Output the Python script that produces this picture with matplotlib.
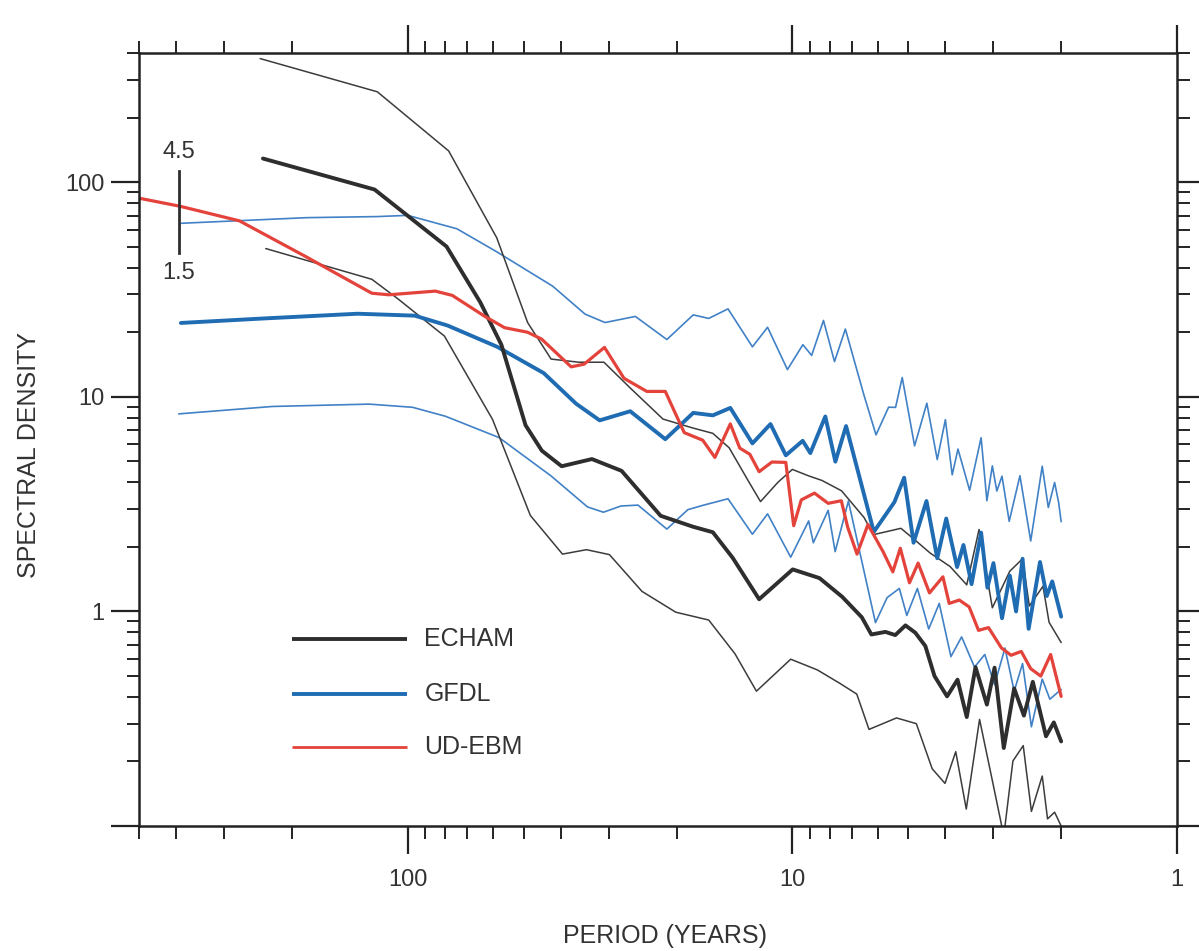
import matplotlib
matplotlib.use("Agg")
import matplotlib.pyplot as plt
from matplotlib.ticker import LogLocator, FuncFormatter, NullFormatter

plt.rcParams['font.family'] = ['Liberation Sans', 'DejaVu Sans']

# ---------------- data (period in years, spectral density) ----------------
# ECHAM central estimate (thick black)
echam_period = [238, 122, 79.3, 64.8, 57.1, 49.4, 44.8, 39.8, 33.2, 27.8, 22.0, 18.1,
                16.1, 14.3, 12.2, 9.98, 8.50, 7.42, 6.60, 6.23, 5.73, 5.40, 5.08, 4.79,
                4.51, 4.27, 3.96, 3.72, 3.52, 3.34, 3.12, 2.98, 2.82, 2.65, 2.50, 2.37,
                2.19, 2.09, 2.00]
echam_density = [129, 92.5, 50.2, 27.6, 17.5, 7.37, 5.61, 4.75, 5.13, 4.52, 2.79, 2.48,
                 2.34, 1.78, 1.14, 1.57, 1.43, 1.17, 0.94, 0.781, 0.803, 0.776, 0.861, 0.796,
                 0.690, 0.500, 0.402, 0.481, 0.322, 0.550, 0.368, 0.547, 0.231, 0.438, 0.327, 0.470,
                 0.262, 0.304, 0.248]

# ECHAM upper bound (thin black)
echam_hi_period = [242, 120, 78.3, 58.7, 48.8, 42.4, 35.9, 30.9, 26.4, 21.7, 18.2, 16.1,
                   14.6, 13.0, 12.1, 10.9, 10.0, 9.06, 8.38, 7.45, 6.51, 6.15, 5.22, 4.84,
                   4.38, 3.89, 3.52, 3.27, 3.02, 2.72, 2.52, 2.42, 2.23, 2.15, 2.00]
echam_hi_density = [377, 264, 140, 55.1, 22.2, 15.0, 14.5, 14.5, 11.0, 7.88, 7.17, 6.76,
                    5.79, 4.04, 3.25, 4.00, 4.59, 4.28, 4.08, 3.65, 2.74, 2.28, 2.44, 2.18,
                    1.87, 1.62, 1.33, 2.41, 1.04, 1.54, 1.76, 1.06, 1.31, 0.89, 0.716]

# ECHAM lower bound (thin black)
echam_lo_period = [234, 124, 106, 80.3, 60.2, 48.0, 39.6, 34.3, 29.9, 24.6, 20.1, 16.5,
                   14.1, 12.4, 10.1, 8.61, 7.52, 6.80, 6.32, 5.36, 4.76, 4.33, 4.01, 3.76,
                   3.53, 3.26, 3.02, 2.82, 2.67, 2.51, 2.39, 2.24, 2.17, 2.08, 2.00]
echam_lo_density = [49.1, 35.3, 28.6, 19.2, 7.85, 2.80, 1.85, 1.94, 1.84, 1.24, 0.992, 0.912,
                    0.635, 0.425, 0.599, 0.534, 0.462, 0.412, 0.282, 0.319, 0.300, 0.185, 0.158, 0.222,
                    0.120, 0.314, 0.163, 0.09, 0.201, 0.237, 0.117, 0.171, 0.108, 0.116, 0.10]

# GFDL central estimate (thick blue)
gfdl_period = [389, 236, 135, 95.9, 78.8, 58.5, 44.3, 36.5, 31.7, 26.4, 21.4, 18.1,
               16.1, 14.5, 12.7, 11.4, 10.4, 9.40, 8.98, 8.21, 7.73, 7.25, 6.14, 5.43,
               5.12, 4.84, 4.48, 4.20, 3.98, 3.73, 3.59, 3.42, 3.23, 3.11, 3.00, 2.85,
               2.72, 2.62, 2.52, 2.43, 2.27, 2.18, 2.11, 2.00]
gfdl_density = [22.1, 23.2, 24.4, 23.9, 21.5, 17.1, 12.9, 9.29, 7.77, 8.57, 6.35, 8.42,
                8.20, 8.88, 6.07, 7.47, 5.34, 6.24, 5.47, 8.10, 4.99, 7.31, 2.35, 3.23,
                4.20, 2.09, 3.27, 1.77, 2.71, 1.61, 2.04, 1.34, 2.33, 1.29, 1.68, 0.93,
                1.47, 1.00, 1.76, 0.83, 1.70, 1.18, 1.38, 0.946]

# GFDL upper bound (thin blue)
gfdl_hi_period = [388, 183, 120, 100, 74.5, 58.8, 42.0, 34.6, 30.7, 25.6, 21.2, 18.1,
                  16.5, 14.7, 12.7, 11.6, 10.3, 9.39, 8.91, 8.30, 7.77, 7.28, 6.52, 6.06,
                  5.62, 5.39, 5.18, 4.81, 4.47, 4.20, 4.00, 3.84, 3.71, 3.46, 3.23, 3.12,
                  3.02, 2.94, 2.85, 2.73, 2.56, 2.40, 2.24, 2.16, 2.08, 2.03, 2.00]
gfdl_hi_density = [64.4, 68.4, 69.2, 70.1, 60.7, 47.5, 32.8, 24.3, 22.2, 23.7, 18.5, 24.1,
                   23.2, 25.7, 17.1, 21.1, 13.4, 17.5, 15.6, 22.7, 14.6, 20.7, 10.25, 6.65,
                   8.95, 8.93, 12.3, 5.91, 9.34, 5.10, 7.83, 4.33, 5.71, 3.67, 6.45, 3.28,
                   4.77, 3.64, 4.27, 2.63, 4.29, 2.13, 4.75, 3.05, 3.99, 3.21, 2.62]

# GFDL lower bound (thin blue)
gfdl_lo_period = [394, 225, 126, 97.2, 79.8, 57.9, 42.4, 34.1, 31.0, 27.9, 25.2, 21.2,
                  18.7, 17.0, 14.7, 12.7, 11.6, 10.1, 9.07, 8.82, 8.07, 7.74, 7.15, 6.08,
                  5.67, 5.27, 5.04, 4.73, 4.42, 4.15, 3.87, 3.63, 3.36, 3.16, 2.98, 2.80,
                  2.65, 2.52, 2.39, 2.24, 2.14, 2.00]
gfdl_lo_density = [8.33, 9.02, 9.25, 8.94, 8.12, 6.46, 4.28, 3.07, 2.90, 3.10, 3.13, 2.42,
                   2.98, 3.13, 3.35, 2.29, 2.85, 1.79, 2.64, 2.09, 2.96, 1.90, 3.27, 0.887,
                   1.16, 1.28, 0.958, 1.28, 0.828, 1.09, 0.616, 0.761, 0.550, 0.630, 0.456, 0.675,
                   0.425, 0.572, 0.290, 0.484, 0.390, 0.433]

# UD-EBM (red)
udebm_period = [500, 391, 274, 184, 124, 112, 84.8, 76.6, 63.0, 56.0, 48.8, 44.9,
                37.6, 34.8, 30.8, 27.4, 23.9, 21.4, 20.2, 19.1, 17.1, 15.9, 14.5, 13.7,
                12.9, 12.2, 11.3, 10.4, 9.92, 9.48, 8.76, 8.07, 7.46, 7.18, 6.79, 6.36,
                5.81, 5.48, 5.24, 4.96, 4.71, 4.40, 4.06, 3.91, 3.68, 3.47, 3.28, 3.09,
                2.86, 2.70, 2.54, 2.40, 2.26, 2.13, 2.00]
udebm_density = [84.3, 77.3, 66.1, 45.0, 30.4, 29.9, 31.1, 29.7, 23.7, 21.0, 20.0, 18.6,
                 13.8, 14.2, 17.0, 12.2, 10.6, 10.6, 8.46, 6.81, 6.28, 5.22, 7.48, 5.77,
                 5.40, 4.48, 4.97, 4.95, 2.51, 3.31, 3.56, 3.19, 3.28, 2.47, 1.85, 2.54,
                 1.90, 1.53, 1.97, 1.36, 1.68, 1.22, 1.45, 1.09, 1.13, 1.05, 0.816, 0.841,
                 0.676, 0.625, 0.651, 0.541, 0.500, 0.63, 0.402]

# confidence bar
ci_period = 394
ci_density = [46.7, 112.5]
ci_labels = ["4.5", "1.5"]
ci_label_density = [139, 37.7]

legend_labels = ["ECHAM", "GFDL", "UD-EBM"]

x_tick_labels = {100: "100", 10: "10", 1: "1"}
y_tick_labels = {100: "100", 10: "10", 1: "1"}

# ---------------- styles ----------------
BLACK = "#2e2e2e"
BLACK_THIN = "#3c3c3c"
BLUE = "#1f6cb3"
BLUE_THIN = "#4181c6"
RED = "#e4433b"
TXT = "#333333"

fig = plt.figure(figsize=(11.99, 9.51), dpi=100)
ax = fig.add_axes([0.1159, 0.1314, 0.8657, 0.8128])
ax.set_xscale("log")
ax.set_yscale("log")
ax.set_xlim(500, 1)
ax.set_ylim(0.1, 400)

kw = dict(solid_joinstyle="round", solid_capstyle="round")
ax.plot(gfdl_hi_period, gfdl_hi_density, color=BLUE_THIN, lw=1.2, **kw)
ax.plot(gfdl_lo_period, gfdl_lo_density, color=BLUE_THIN, lw=1.2, **kw)
ax.plot(echam_hi_period, echam_hi_density, color=BLACK_THIN, lw=1.1, **kw)
ax.plot(echam_lo_period, echam_lo_density, color=BLACK_THIN, lw=1.1, **kw)
ax.plot(gfdl_period, gfdl_density, color=BLUE, lw=2.8, **kw)
ax.plot(echam_period, echam_density, color=BLACK, lw=2.8, **kw)
ax.plot(udebm_period, udebm_density, color=RED, lw=2.3, **kw)

# confidence bar
ax.plot([ci_period, ci_period], ci_density, color=BLACK, lw=2.0)
for lab, yv in zip(ci_labels, ci_label_density):
    ax.text(ci_period, yv, lab, ha="center", va="center", fontsize=17, color=TXT)

# legend (drawn manually)
leg_colors = [BLACK, BLUE, RED]
leg_widths = [2.8, 2.8, 2.0]
leg_y = [0.242, 0.171, 0.102]
for lab, c, w, yy in zip(legend_labels, leg_colors, leg_widths, leg_y):
    ax.plot([0.147, 0.258], [yy, yy], transform=ax.transAxes, color=c, lw=w,
            solid_capstyle="butt")
    ax.text(0.275, yy, lab, transform=ax.transAxes, ha="left", va="center",
            fontsize=18, color=TXT)

# ticks
ax.xaxis.set_major_locator(LogLocator(base=10, numticks=10))
ax.xaxis.set_minor_locator(LogLocator(base=10, subs=range(2, 10), numticks=20))
ax.yaxis.set_major_locator(LogLocator(base=10, numticks=10))
ax.yaxis.set_minor_locator(LogLocator(base=10, subs=range(2, 10), numticks=20))


def fmt_x(v, pos):
    for k, s in x_tick_labels.items():
        if abs(v - k) < 1e-6 * k:
            return s
    return ""


def fmt_y(v, pos):
    for k, s in y_tick_labels.items():
        if abs(v - k) < 1e-6 * k:
            return s
    return ""


ax.xaxis.set_major_formatter(FuncFormatter(fmt_x))
ax.yaxis.set_major_formatter(FuncFormatter(fmt_y))
ax.xaxis.set_minor_formatter(NullFormatter())
ax.yaxis.set_minor_formatter(NullFormatter())

ax.tick_params(which="both", direction="out", top=True, right=True,
               labeltop=False, labelright=False, colors="#222222",
               labelcolor=TXT, labelsize=17)
ax.tick_params(which="major", length=20, width=1.6)
ax.tick_params(which="minor", length=9, width=1.4)
ax.tick_params(axis="x", which="major", pad=11)
ax.tick_params(axis="y", which="major", pad=5)

for sp in ax.spines.values():
    sp.set_linewidth(1.8)
    sp.set_color("#222222")

ax.set_xlabel("PERIOD (YEARS)", fontsize=18, color=TXT)
ax.set_ylabel("SPECTRAL DENSITY", fontsize=18, color=TXT)
ax.xaxis.set_label_coords(0.507, -0.127)
ax.yaxis.set_label_coords(-0.0944, 0.48)

fig.savefig("out.png", dpi=100, facecolor="white")
